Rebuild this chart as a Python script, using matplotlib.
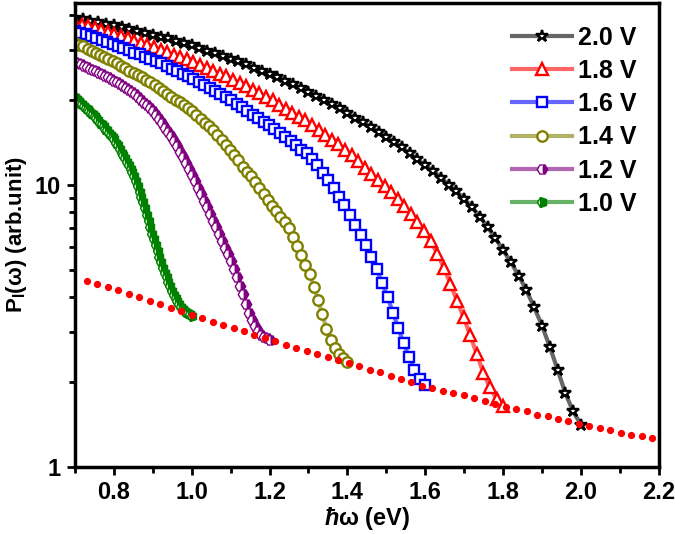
import numpy as np
import matplotlib
matplotlib.use('Agg')
import matplotlib.pyplot as plt
from matplotlib.markers import MarkerStyle
from matplotlib.transforms import Affine2D
from matplotlib.ticker import MultipleLocator, LogLocator, NullFormatter, FixedLocator, FixedFormatter

plt.rcParams['font.family'] = ['Liberation Sans', 'DejaVu Sans']
plt.rcParams['font.weight'] = 'bold'
plt.rcParams['mathtext.fontset'] = 'custom'
plt.rcParams['mathtext.rm'] = 'Liberation Sans:bold'
plt.rcParams['mathtext.bf'] = 'Liberation Sans:bold'
plt.rcParams['mathtext.it'] = 'Liberation Sans:bold:italic'

# ---- data (P in arb. units, log scale) ----
voltages = [2.0, 1.8, 1.6, 1.4, 1.2, 1.0]
labels = ['2.0 V', '1.8 V', '1.6 V', '1.4 V', '1.2 V', '1.0 V']

p_20 = [39.1, 38.6, 38.2, 37.8, 37.2, 36.7, 36.2, 35.6, 35.2, 34.6,
        34.0, 33.5, 33.0, 32.4, 31.8, 31.2, 30.5, 29.9, 29.3, 28.6,
        28.0, 27.4, 26.7, 26.0, 25.4, 24.7, 24.0, 23.4, 22.7, 22.0,
        21.3, 20.7, 20.0, 19.3, 18.7, 18.0, 17.3, 16.7, 16.0, 15.4,
        14.8, 14.2, 13.6, 12.9, 12.3, 11.7, 11.2, 10.6, 10.0, 9.46,
        8.91, 8.32, 7.71, 7.08, 6.46, 5.86, 5.31, 4.76, 4.22, 3.67,
        3.16, 2.66, 2.21, 1.82, 1.57, 1.41]
p_18 = [37.5, 36.9, 36.4, 35.8, 35.3, 34.8, 34.2, 33.6, 33.0, 32.4,
        31.9, 31.3, 30.8, 30.1, 29.5, 28.9, 28.3, 27.8, 27.2, 26.5,
        25.9, 25.3, 24.7, 24.2, 23.5, 22.9, 22.3, 21.7, 21.1, 20.5,
        19.9, 19.2, 18.6, 18.0, 17.4, 16.9, 16.3, 15.6, 15.0, 14.4,
        13.9, 13.3, 12.7, 12.1, 11.5, 10.9, 10.4, 9.91, 9.40, 8.89,
        8.41, 7.89, 7.35, 6.85, 6.31, 5.70, 5.08, 4.44, 3.87, 3.39,
        2.92, 2.51, 2.15, 1.91, 1.74, 1.64]
p_16 = [35.2, 34.6, 34.1, 33.6, 33.0, 32.6, 32.1, 31.6, 31.0, 30.5,
        30.0, 29.4, 29.0, 28.4, 27.9, 27.4, 26.9, 26.3, 25.8, 25.2,
        24.7, 24.2, 23.7, 23.1, 22.5, 22.0, 21.4, 20.9, 20.4, 19.9,
        19.3, 18.8, 18.2, 17.7, 17.2, 16.7, 16.3, 15.7, 15.2, 14.7,
        14.3, 13.8, 13.3, 12.9, 12.3, 11.7, 11.0, 10.4, 9.72, 9.08,
        8.45, 7.83, 7.21, 6.64, 6.11, 5.56, 5.01, 4.48, 4.00, 3.52,
        3.10, 2.74, 2.45, 2.21, 2.04, 1.95]
p_14 = [31.9, 31.4, 30.9, 30.3, 29.9, 29.4, 28.9, 28.4, 27.9, 27.5,
        27.0, 26.4, 25.9, 25.4, 24.9, 24.4, 24.0, 23.5, 23.1, 22.6,
        22.0, 21.5, 21.0, 20.5, 20.0, 19.6, 19.1, 18.7, 18.2, 17.7,
        17.1, 16.6, 16.1, 15.6, 15.0, 14.4, 13.8, 13.3, 12.7, 12.2,
        11.6, 11.1, 10.7, 10.2, 9.70, 9.27, 8.83, 8.41, 8.05, 7.71,
        7.36, 7.03, 6.53, 6.05, 5.61, 5.19, 4.81, 4.34, 3.91, 3.47,
        3.08, 2.81, 2.64, 2.51, 2.43, 2.36]
p_12 = [27.3, 27.0, 26.7, 26.4, 26.1, 25.8, 25.5, 25.2, 24.9, 24.6,
        24.3, 24.0, 23.7, 23.4, 23.1, 22.7, 22.3, 22.0, 21.6, 21.3,
        20.9, 20.5, 20.0, 19.5, 19.1, 18.7, 18.3, 17.7, 17.1, 16.5,
        15.9, 15.4, 14.9, 14.3, 13.7, 13.1, 12.5, 11.9, 11.4, 10.8,
        10.3, 9.75, 9.25, 8.77, 8.32, 7.89, 7.46, 7.06, 6.68, 6.32,
        5.98, 5.68, 5.37, 5.02, 4.70, 4.39, 4.09, 3.79, 3.52, 3.30,
        3.16, 3.03, 2.92, 2.89, 2.85, 2.82]
p_10 = [20.4, 20.1, 19.8, 19.5, 19.3, 19.0, 18.7, 18.5, 18.3, 18.0,
        17.8, 17.5, 17.2, 16.9, 16.6, 16.4, 16.1, 15.8, 15.6, 15.3,
        15.0, 14.8, 14.5, 14.1, 13.8, 13.4, 13.0, 12.7, 12.4, 12.0,
        11.7, 11.4, 11.1, 10.7, 10.3, 9.86, 9.44, 9.06, 8.67, 8.24,
        7.83, 7.45, 7.08, 6.71, 6.40, 6.11, 5.83, 5.56, 5.31, 5.07,
        4.88, 4.70, 4.53, 4.36, 4.19, 4.07, 3.97, 3.87, 3.78, 3.68,
        3.61, 3.57, 3.54, 3.50, 3.47, 3.43]
curves = [p_20, p_18, p_16, p_14, p_12, p_10]

# threshold (red dotted) line, x from 0.731 to 2.183
thr_x0, thr_x1 = 0.731, 2.183
p_thr = [4.57, 4.45, 4.33, 4.22, 4.10, 3.99, 3.87, 3.77, 3.66, 3.56,
         3.46, 3.37, 3.27, 3.18, 3.10, 3.02, 2.94, 2.86, 2.79, 2.71,
         2.64, 2.58, 2.52, 2.45, 2.39, 2.33, 2.27, 2.21, 2.16, 2.10,
         2.05, 1.99, 1.94, 1.90, 1.86, 1.82, 1.79, 1.75, 1.71, 1.67,
         1.63, 1.60, 1.57, 1.53, 1.51, 1.48, 1.45, 1.42, 1.40, 1.37,
         1.35, 1.32, 1.30, 1.28, 1.26]

# ---- styles ----
colors = ['black', 'red', 'blue', '#808000', '#800080', 'green']
line_rgba = [(0.0, 0.0, 0.0, 0.6), (1.0, 0.0, 0.0, 0.6), (0.0, 0.0, 1.0, 0.6),
             (0.5, 0.5, 0.0, 0.6), (0.5, 0.0, 0.5, 0.6), (0.0, 0.5, 0.0, 0.6)]
rot = Affine2D().rotate_deg(90)
markers = [MarkerStyle('*', fillstyle='full'),
           MarkerStyle('^', fillstyle='full'),
           MarkerStyle('s', fillstyle='full'),
           MarkerStyle('o', fillstyle='full'),
           MarkerStyle('h', fillstyle='bottom', transform=rot),
           MarkerStyle('p', fillstyle='bottom', transform=rot)]
msizes = [9, 8.5, 6.5, 7.5, 7.5, 7.5]

fig = plt.figure(figsize=(6.75, 5.34), dpi=100)
ax = fig.add_axes([0.111, 0.126, 0.865, 0.868])

for V, p, lab, c, lc, m, ms in zip(voltages, curves, labels, colors, line_rgba, markers, msizes):
    x = np.linspace(0.7, V, len(p))
    if m.get_fillstyle() == 'full':
        ax.plot(x, p, color=lc, lw=3, marker=m, ms=ms, mec=c, mfc='white',
                mew=1.7, label=lab)
    else:
        ax.plot(x, p, color=lc, lw=3, marker=m, ms=ms, mec=c, mfc=c,
                mfcalt='white', mew=1.0, label=lab)

tx = np.linspace(thr_x0, thr_x1, len(p_thr))
ax.plot(tx, p_thr, ls='none', marker='o', ms=4.2, color='red', mec='red')

ax.set_yscale('log')
ax.set_xlim(0.7, 2.2)
ax.set_ylim(1, 44)

ax.xaxis.set_minor_locator(MultipleLocator(0.1))
ax.set_xticks([0.8, 1.0, 1.2, 1.4, 1.6, 1.8, 2.0, 2.2])
ax.set_xticklabels(['0.8', '1.0', '1.2', '1.4', '1.6', '1.8', '2.0', '2.2'])
ax.yaxis.set_major_locator(FixedLocator([1, 10]))
ax.yaxis.set_major_formatter(FixedFormatter(['1', '10']))
ax.yaxis.set_minor_locator(LogLocator(base=10, subs=np.arange(2, 10)))
ax.yaxis.set_minor_formatter(NullFormatter())

ax.tick_params(which='both', direction='out', top=False, right=False,
               width=2, labelsize=17)
ax.tick_params(which='major', length=6, pad=4)
ax.tick_params(which='minor', length=4)
for s in ax.spines.values():
    s.set_linewidth(2.5)

ax.set_xlabel(r'$\hbar$ω (eV)', fontsize=17, fontweight='bold', labelpad=1)
ax.set_ylabel(r'P$_{\mathbf{I}}$(ω) (arb.unit)', fontsize=16, fontweight='bold', labelpad=4)

leg = ax.legend(loc='upper right', frameon=False, fontsize=18, numpoints=1,
                handlelength=2.4, labelspacing=0.37, handletextpad=0.25,
                borderaxespad=0.5)

fig.savefig('out.png', dpi=100)
